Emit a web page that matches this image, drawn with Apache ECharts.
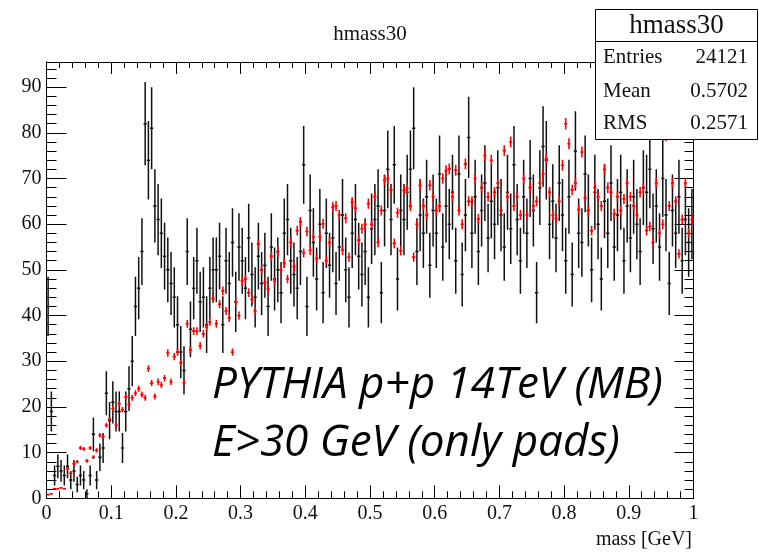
<!DOCTYPE html>
<html>
<head>
<meta charset="utf-8">
<script src="https://cdn.jsdelivr.net/npm/echarts@6/dist/echarts.min.js"></script>
<style>html,body{margin:0;padding:0;background:#fff;}#c{width:759px;height:554px;}</style>
</head>
<body>
<div id="c"></div>
<script>
// ---- data (200 bins, 0..1 GeV, width 0.005) ----
const BIN_LOW = 0;
const BIN_W = 0.005;
const X_TICKS = [0, 0.1, 0.2, 0.3, 0.4, 0.5, 0.6, 0.7, 0.8, 0.9, 1];
const Y_TICKS = [0, 10, 20, 30, 40, 50, 60, 70, 80, 90];
const Y_MAX = 95.5;

// black histogram (hmass30) contents
const blackVals = [
 42,19,5,7,6,5,7,4,6,3,5,4,1,5,14,4,9,11,23,17,
 21,19,19,11,19,24,30,42,46,54,82,74,81,64,61,58,53,50,47,44,
 38,32,28,54,37,46,52,43,44,38,46,50,50,53,38,52,47,56,43,55,
 52,46,57,49,44,53,47,51,42,55,48,50,45,58,61,52,49,46,54,73,
 42,63,56,48,60,45,58,51,57,47,55,62,50,44,58,61,53,49,54,44,
 59,61,64,45,63,72,61,73,48,63,61,67,72,81,54,62,58,66,51,63,
 58,71,55,64,60,67,52,71,49,62,79,58,66,54,63,69,57,65,60,68,
 62,55,67,59,73,61,52,66,58,70,63,45,68,77,74,60,65,57,69,62,
 52,66,49,76,58,56,71,63,50,67,60,48,65,58,69,55,62,67,52,64,
 57,66,60,54,68,67,72,59,64,55,70,62,47,63,58,66,52,61,56,60
];
const blackErrs = [
 6.5,4.4,2.2,2.6,2.4,2.2,2.6,2,2.4,1.7,2.2,2,1,2.2,3.7,2,3,3.3,4.8,4.1,
 4.6,4.4,4.4,3.3,4.4,4.9,5.5,6.5,6.8,7.3,9.1,8.6,9,8,7.8,7.6,7.3,7.1,6.9,6.6,
 6.2,5.7,5.3,7.3,6.1,6.8,7.2,6.6,6.6,6.2,6.8,7.1,7.1,7.3,6.2,7.2,6.9,7.5,6.6,7.4,
 7.2,6.8,7.5,7,6.6,7.3,6.9,7.1,6.5,7.4,6.9,7.1,6.7,7.6,7.8,7.2,7,6.8,7.3,8.5,
 6.5,7.9,7.5,6.9,7.7,6.7,7.6,7.1,7.5,6.9,7.4,7.9,7.1,6.6,7.6,7.8,7.3,7,7.3,6.6,
 7.7,7.8,8,6.7,7.9,8.5,7.8,8.5,6.9,7.9,7.8,8.2,8.5,9,7.3,7.9,7.6,8.1,7.1,7.9,
 7.6,8.4,7.4,8,7.7,8.2,7.2,8.4,7,7.9,8.9,7.6,8.1,7.3,7.9,8.3,7.5,8.1,7.7,8.2,
 7.9,7.4,8.2,7.7,8.5,7.8,7.2,8.1,7.6,8.4,7.9,6.7,8.2,8.8,8.6,7.7,8.1,7.5,8.3,7.9,
 7.2,8.1,7,8.7,7.6,7.5,8.4,7.9,7.1,8.2,7.7,6.9,8.1,7.6,8.3,7.4,7.9,8.2,7.2,8,
 7.5,8.1,7.7,7.3,8.2,8.2,8.5,7.7,8,7.4,8.4,7.9,6.9,7.9,7.6,8.1,7.2,7.8,7.5,7.7
];

// red reference histogram contents
const redVals = [
 0.8,1,2.1,2.1,2.3,2.1,6.5,5.5,7.6,8,11,10.8,8.2,11,9,10.5,13.8,13.5,16,17.3,
 19.6,16,20.7,19.4,22.2,20.5,22,23,24,22.7,22,28.4,25.2,22.3,25.5,24.8,26.3,31.8,25.5,31,
 32,29.7,25.3,38.2,32.5,36.6,36.6,33.4,36,37.5,38.6,43.7,38.2,42.5,45.4,41,39.5,32,43,40,
 47.6,48,45,43.5,41,55.7,50,47.2,45.8,53,47.5,54,50,51.5,48,56,50.7,58.6,60.5,53.7,
 58.4,54.3,57.2,52.5,57.2,60.1,52,56,63.7,64,62,54.3,61.3,52.8,64.8,63.5,56.5,59,60,64.5,
 60,66,56,63,69.6,70,67.5,55.8,62.5,54.2,67.4,67.8,64,52.8,60,68.5,64,62,68.5,66,
 63,64,70,71.7,72.1,66,71.8,63,60,73.2,65,65,70,61.2,68,75,66,74,67,69,
 63,76.1,66,78,64,66,62,70,62,68,64,65,69,71,74.3,67,62,61.2,65,72.9,
 82,77.6,67.5,69,63.2,75.8,65.7,63,58.6,68,66,64,72,68,67,62.3,66,63,65.5,69,
 66,64,62,67,68,58.6,59.5,56,69,58,60,79.4,64,69,65,53.5,61,69,58,61
];
const redErrs = [
 0.15,0.15,0.2,0.2,0.2,0.2,0.35,0.35,0.4,0.4,0.45,0.45,0.4,0.45,0.4,0.45,0.5,0.5,0.55,0.6,
 0.6,0.55,0.65,0.6,0.65,0.65,0.65,0.65,0.7,0.65,0.65,0.75,0.7,0.65,0.7,0.7,0.7,0.8,0.7,0.8,
 0.8,0.75,0.7,0.85,0.8,0.85,0.85,0.8,0.85,0.85,0.85,0.9,0.85,0.9,0.95,0.9,0.9,0.8,0.9,0.9,
 0.95,0.95,0.95,0.9,0.9,1.05,1,0.95,0.95,1,0.95,1.05,1,1,0.95,1.05,1,1.05,1.1,1,
 1.05,1.05,1.05,1,1.05,1.1,1,1.05,1.1,1.1,1.1,1.05,1.1,1,1.1,1.1,1.05,1.1,1.1,1.1,
 1.1,1.1,1.05,1.1,1.15,1.15,1.15,1.05,1.1,1.05,1.15,1.15,1.1,1.0,1.1,1.15,1.1,1.1,1.15,1.1,
 1.1,1.1,1.15,1.2,1.2,1.1,1.2,1.1,1.1,1.2,1.1,1.1,1.15,1.1,1.15,1.2,1.1,1.2,1.15,1.15,
 1.1,1.2,1.1,1.2,1.1,1.1,1.1,1.15,1.1,1.15,1.1,1.1,1.15,1.2,1.2,1.15,1.1,1.1,1.1,1.2,
 1.25,1.2,1.15,1.15,1.1,1.2,1.1,1.1,1.05,1.15,1.1,1.1,1.2,1.15,1.15,1.1,1.1,1.1,1.1,1.15,
 1.1,1.1,1.1,1.15,1.15,1.05,1.05,1.05,1.15,1.05,1.1,1.25,1.1,1.15,1.1,1.0,1.1,1.15,1.05,1.1
];

const STATS_ROWS = [["Entries", "24121"], ["Mean", "0.5702"], ["RMS", "0.2571"]];

// ---- build series data from bins ----
function binData(vals, errs) {
  return vals.map((v, i) => [BIN_LOW + (i + 0.5) * BIN_W, v, errs[i]]);
}

function errRender(color, width) {
  return function (params, api) {
    const x = api.value(0), y = api.value(1), e = api.value(2);
    const hw = BIN_W / 2;
    const pL = api.coord([x - hw, y]);
    const pR = api.coord([x + hw, y]);
    const pT = api.coord([x, y + e]);
    const pB = api.coord([x, Math.max(0, y - e)]);
    const st = { stroke: color, lineWidth: width };
    return {
      type: 'group',
      children: [
        { type: 'line', shape: { x1: pL[0], y1: pL[1], x2: pR[0], y2: pR[1] }, style: st },
        { type: 'line', shape: { x1: pT[0], y1: pT[1], x2: pB[0], y2: pB[1] }, style: st }
      ]
    };
  };
}

const SERIF = 'Liberation Serif';
const axCol = '#000';
const lineSt = { color: axCol, width: 1 };

function yAxisDef(pos, interval, len, labels) {
  return {
    type: 'value', min: 0, max: Y_MAX, interval: interval, position: pos,
    axisLine: { show: true, onZero: false, lineStyle: lineSt },
    axisTick: { show: true, inside: true, length: len, lineStyle: lineSt },
    splitLine: { show: false },
    axisLabel: labels ? {
      show: true, fontFamily: SERIF, fontSize: 20, color: '#111', margin: 5,
      showMaxLabel: false,
      formatter: function (v) { return Y_TICKS.indexOf(Math.round(v * 1000) / 1000) >= 0 ? String(v) : ''; }
    } : { show: false }
  };
}

const chart = echarts.init(document.getElementById('c'), null, { renderer: 'canvas' });
chart.setOption({
  animation: false,
  backgroundColor: '#fff',
  grid: { left: 46.5, right: 65.5, top: 62, bottom: 55.7, containLabel: false, show: false },
  xAxis: [
    {
      type: 'value', min: 0, max: 1, interval: 0.1, position: 'bottom',
      axisLine: { show: true, onZero: false, lineStyle: lineSt },
      axisTick: { show: true, inside: true, length: 13, lineStyle: lineSt },
      minorTick: { show: true, splitNumber: 5, length: 7, lineStyle: lineSt },
      splitLine: { show: false }, minorSplitLine: { show: false },
      axisLabel: {
        show: true, fontFamily: SERIF, fontSize: 20, color: '#111', margin: 5,
        formatter: function (v) { return X_TICKS.indexOf(Math.round(v * 1000) / 1000) >= 0 ? String(Math.round(v * 1000) / 1000) : ''; }
      }
    },
    {
      type: 'value', min: 0, max: 1, interval: 0.1, position: 'top',
      axisLine: { show: true, onZero: false, lineStyle: lineSt },
      axisTick: { show: true, inside: true, length: 12, lineStyle: lineSt },
      minorTick: { show: true, splitNumber: 5, length: 6, lineStyle: lineSt },
      splitLine: { show: false }, axisLabel: { show: false }
    }
  ],
  yAxis: [
    yAxisDef('left', 10, 20, true),
    yAxisDef('left', 2, 10, false),
    yAxisDef('right', 10, 19, false),
    yAxisDef('right', 2, 9, false)
  ],
  series: [
    {
      type: 'custom', name: 'hmass30', xAxisIndex: 0, yAxisIndex: 0, clip: true,
      renderItem: errRender('#111', 1.5),
      encode: { x: 0, y: 1 },
      data: binData(blackVals, blackErrs), z: 2
    },
    {
      type: 'custom', name: 'reference', xAxisIndex: 0, yAxisIndex: 0, clip: true,
      renderItem: errRender('#ff0000', 1.6),
      encode: { x: 0, y: 1 },
      data: binData(redVals, redErrs), z: 3
    }
  ],
  graphic: [
    { type: 'text', z: 50, style: { text: 'hmass30', x: 370, y: 34, textAlign: 'center', textVerticalAlign: 'middle', font: '21px "Liberation Serif"', fill: '#111' } },
    { type: 'text', z: 50, style: { text: 'mass [GeV]', x: 692, y: 540, textAlign: 'right', textVerticalAlign: 'middle', font: '20px "Liberation Serif"', fill: '#111' } },
    // stats box
    { type: 'rect', z: 60, shape: { x: 595.5, y: 9.5, width: 162, height: 130 }, style: { fill: '#fff', stroke: '#000', lineWidth: 1 } },
    { type: 'line', z: 61, shape: { x1: 595.5, y1: 41.5, x2: 757.5, y2: 41.5 }, style: { stroke: '#000', lineWidth: 1 } },
    { type: 'text', z: 62, style: { text: 'hmass30', x: 676.5, y: 26, textAlign: 'center', textVerticalAlign: 'middle', font: '27px "Liberation Serif"', fill: '#111' } },
    { type: 'text', z: 62, style: { text: STATS_ROWS[0][0], x: 603, y: 57.5, textAlign: 'left', textVerticalAlign: 'middle', font: '21px "Liberation Serif"', fill: '#111' } },
    { type: 'text', z: 62, style: { text: STATS_ROWS[0][1], x: 748, y: 57.5, textAlign: 'right', textVerticalAlign: 'middle', font: '21px "Liberation Serif"', fill: '#111' } },
    { type: 'text', z: 62, style: { text: STATS_ROWS[1][0], x: 603, y: 91, textAlign: 'left', textVerticalAlign: 'middle', font: '21px "Liberation Serif"', fill: '#111' } },
    { type: 'text', z: 62, style: { text: STATS_ROWS[1][1], x: 748, y: 91, textAlign: 'right', textVerticalAlign: 'middle', font: '21px "Liberation Serif"', fill: '#111' } },
    { type: 'text', z: 62, style: { text: STATS_ROWS[2][0], x: 603, y: 123, textAlign: 'left', textVerticalAlign: 'middle', font: '21px "Liberation Serif"', fill: '#111' } },
    { type: 'text', z: 62, style: { text: STATS_ROWS[2][1], x: 748, y: 123, textAlign: 'right', textVerticalAlign: 'middle', font: '21px "Liberation Serif"', fill: '#111' } },
    // annotation
    { type: 'text', z: 70, style: { text: 'PYTHIA p+p 14TeV (MB)', x: 212, y: 385, textAlign: 'left', textVerticalAlign: 'middle', font: 'italic 44px "Open Sans"', fill: '#000' } },
    { type: 'text', z: 70, style: { text: 'E>30 GeV (only pads)', x: 212, y: 443, textAlign: 'left', textVerticalAlign: 'middle', font: 'italic 44px "Open Sans"', fill: '#000' } }
  ]
});
</script>
</body>
</html>
